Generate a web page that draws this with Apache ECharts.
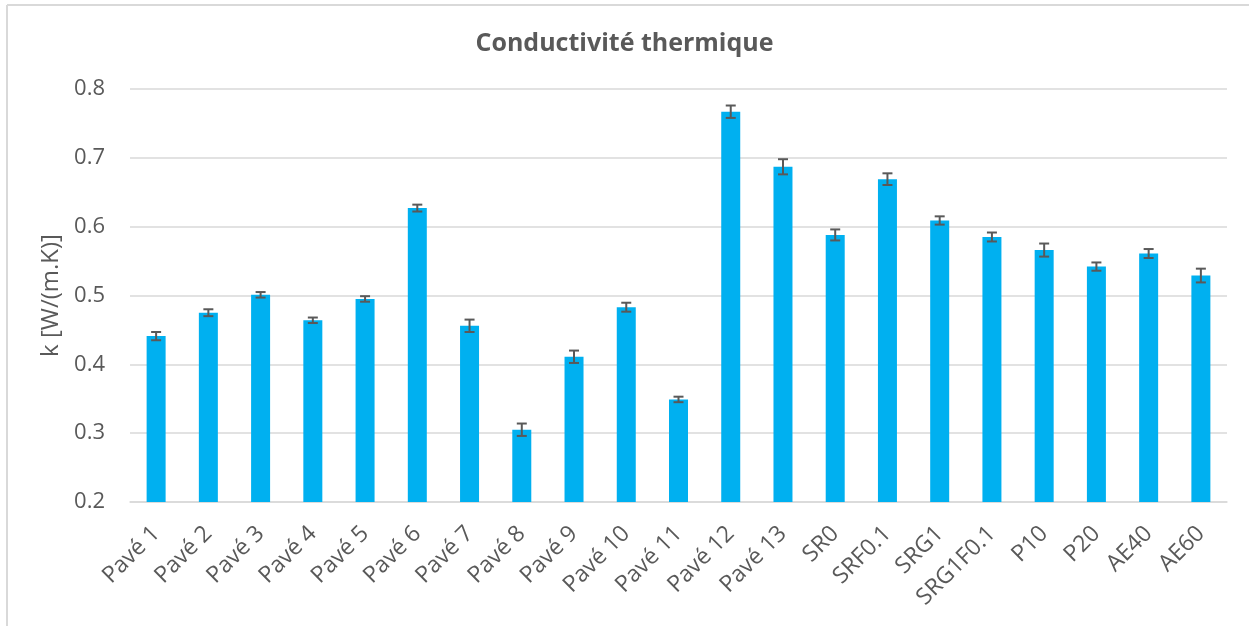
<!DOCTYPE html>
<html>
<head>
<meta charset="utf-8">
<script src="https://cdn.jsdelivr.net/npm/echarts@6/dist/echarts.min.js"></script>
<style>html,body{margin:0;padding:0;background:#fff}#c{width:1249px;height:626px}</style>
</head>
<body>
<div id="c"></div>
<script>
var categories = ['Pavé 1','Pavé 2','Pavé 3','Pavé 4','Pavé 5','Pavé 6','Pavé 7','Pavé 8','Pavé 9','Pavé 10','Pavé 11','Pavé 12','Pavé 13','SR0','SRF0.1','SRG1','SRG1F0.1','P10','P20','AE40','AE60'];
var values = [0.441,0.475,0.501,0.464,0.495,0.627,0.456,0.305,0.411,0.483,0.349,0.767,0.687,0.588,0.669,0.609,0.585,0.566,0.542,0.561,0.529];
var errors = [0.006,0.005,0.004,0.004,0.004,0.005,0.009,0.009,0.009,0.0065,0.004,0.009,0.011,0.008,0.0085,0.006,0.0065,0.0095,0.006,0.0065,0.010];
var yTicks = [0.2,0.3,0.4,0.5,0.6,0.7,0.8];

var FONT = '"Open Sans", sans-serif';
var TXT = '#595959';
var errData = categories.map(function(c,i){ return [i, values[i]-errors[i], values[i]+errors[i]]; });

var chart = echarts.init(document.getElementById('c'));
chart.setOption({
  animation: false,
  backgroundColor: '#fff',
  title: {
    text: 'Conductivité thermique',
    left: 'center', top: 26,
    textStyle: {fontFamily: FONT, fontSize: 25, fontWeight: 'bold', color: TXT}
  },
  graphic: [
    {type:'line', shape:{x1:7,y1:5,x2:1249,y2:5}, style:{stroke:'#d9d9d9', lineWidth:2}},
    {type:'line', shape:{x1:7,y1:5,x2:7,y2:626}, style:{stroke:'#d9d9d9', lineWidth:2}}
  ],
  grid: {left: 130, right: 22, top: 89, bottom: 124},
  xAxis: {
    type: 'category',
    data: categories,
    axisLine: {show: true, lineStyle: {color: '#d9d9d9', width: 1.5}},
    axisTick: {show: false},
    axisLabel: {rotate: 45, interval: 0, margin: 28, fontFamily: FONT, fontSize: 23, color: TXT}
  },
  yAxis: {
    type: 'value',
    min: 0.2, max: 0.8, interval: 0.1,
    name: 'k [W/(m.K)]',
    nameLocation: 'middle',
    nameGap: 64,
    nameTextStyle: {fontFamily: FONT, fontSize: 24, color: TXT},
    axisLine: {show: false},
    axisTick: {show: false},
    splitLine: {lineStyle: {color: '#d9d9d9', width: 1.5}},
    axisLabel: {
      margin: 25, fontFamily: FONT, fontSize: 22, color: TXT,
      formatter: function(v){ return v.toFixed(1); }
    }
  },
  series: [
    {
      type: 'bar',
      data: values,
      barWidth: 19,
      itemStyle: {color: '#00B0F0'}
    },
    {
      type: 'custom',
      data: errData,
      z: 10,
      renderItem: function(params, api){
        var x = api.value(0);
        var lo = api.coord([x, api.value(1)]);
        var hi = api.coord([x, api.value(2)]);
        var h = 5;
        var st = {stroke: '#595959', lineWidth: 2};
        return {type: 'group', children: [
          {type:'line', shape:{x1:lo[0], y1:lo[1], x2:hi[0], y2:hi[1]}, style: st},
          {type:'line', shape:{x1:lo[0]-h, y1:lo[1], x2:lo[0]+h, y2:lo[1]}, style: st},
          {type:'line', shape:{x1:hi[0]-h, y1:hi[1], x2:hi[0]+h, y2:hi[1]}, style: st}
        ]};
      }
    }
  ]
});
</script>
</body>
</html>
